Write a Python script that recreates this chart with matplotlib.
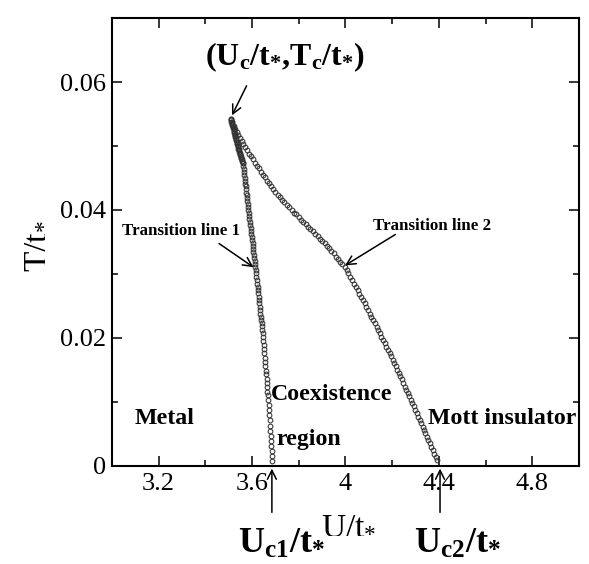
import matplotlib
matplotlib.use("Agg")
import matplotlib.pyplot as plt
from matplotlib.ticker import MultipleLocator

plt.rcParams['font.family'] = ['Liberation Serif', 'DejaVu Serif']
plt.rcParams['mathtext.fontset'] = 'custom'
plt.rcParams['mathtext.rm'] = 'Liberation Serif'
plt.rcParams['mathtext.it'] = 'Liberation Serif:italic'
plt.rcParams['mathtext.bf'] = 'Liberation Serif:bold'

# transition line 1 (metal side)
u_line1 = [3.509, 3.510, 3.512, 3.513, 3.514, 3.516, 3.517, 3.518, 3.519, 3.521,
           3.522, 3.523, 3.524, 3.526, 3.527, 3.528, 3.529, 3.531, 3.532, 3.533,
           3.534, 3.536, 3.537, 3.538, 3.540, 3.541, 3.542, 3.544, 3.545, 3.546,
           3.547, 3.549, 3.550, 3.552, 3.553, 3.554, 3.556, 3.557, 3.559, 3.560,
           3.561, 3.562, 3.564, 3.565, 3.567, 3.568, 3.570, 3.571, 3.573, 3.574,
           3.575, 3.577, 3.578, 3.580, 3.581, 3.583,
           3.584, 3.586, 3.587, 3.589, 3.590, 3.592, 3.594, 3.595, 3.597, 3.598,
           3.600, 3.602, 3.603, 3.605, 3.606, 3.608, 3.610, 3.611, 3.613, 3.614,
           3.616, 3.618, 3.619, 3.621, 3.622, 3.624, 3.625, 3.627, 3.628, 3.630,
           3.631, 3.633, 3.635, 3.636, 3.638, 3.639, 3.641, 3.642, 3.644, 3.645,
           3.647, 3.648, 3.650, 3.651, 3.653, 3.654, 3.656, 3.657, 3.659, 3.660,
           3.662, 3.663, 3.665, 3.666, 3.668,
           3.669, 3.671, 3.672, 3.674, 3.675, 3.677, 3.678, 3.680, 3.681, 3.683,
           3.684, 3.686, 3.687]
t_line1 = [0.0542, 0.0540, 0.0538, 0.0537, 0.0535, 0.0533, 0.0531, 0.0530, 0.0528, 0.0526,
           0.0524, 0.0523, 0.0521, 0.0519, 0.0517, 0.0516, 0.0514, 0.0512, 0.0510, 0.0509,
           0.0507, 0.0505, 0.0503, 0.0502, 0.0500, 0.0498, 0.0496, 0.0495, 0.0493, 0.0491,
           0.0489, 0.0488, 0.0486, 0.0484, 0.0482, 0.0481, 0.0479, 0.0477, 0.0476, 0.0474,
           0.0473, 0.0468, 0.0464, 0.0459, 0.0455, 0.0450, 0.0446, 0.0441, 0.0437, 0.0432,
           0.0427, 0.0423, 0.0418, 0.0414, 0.0409, 0.0405,
           0.0400, 0.0395, 0.0391, 0.0386, 0.0381, 0.0377, 0.0372, 0.0367, 0.0362, 0.0358,
           0.0353, 0.0348, 0.0344, 0.0339, 0.0334, 0.0330, 0.0325, 0.0320, 0.0315, 0.0311,
           0.0306, 0.0301, 0.0296, 0.0290, 0.0285, 0.0280, 0.0275, 0.0270, 0.0264, 0.0259,
           0.0254, 0.0249, 0.0244, 0.0238, 0.0233, 0.0228, 0.0223, 0.0218, 0.0212, 0.0207,
           0.0202, 0.0195, 0.0189, 0.0182, 0.0176, 0.0169, 0.0162, 0.0156, 0.0149, 0.0143,
           0.0136, 0.0129, 0.0123, 0.0116, 0.0110,
           0.0103, 0.0095, 0.0087, 0.0079, 0.0071, 0.0063, 0.0055, 0.0047, 0.0039, 0.0031,
           0.0023, 0.0015, 0.0007]

# transition line 2 (insulator side)
u_line2 = [3.509, 3.516, 3.522, 3.529, 3.536, 3.542, 3.549, 3.556, 3.562,
           3.569, 3.578, 3.587, 3.596, 3.604, 3.613, 3.622, 3.631,
           3.640, 3.649, 3.657, 3.666, 3.674, 3.683, 3.691,
           3.700, 3.710, 3.720, 3.730, 3.739, 3.749, 3.759,
           3.769, 3.779, 3.789, 3.799, 3.810, 3.820, 3.830,
           3.840, 3.850, 3.860, 3.870, 3.881, 3.891, 3.901,
           3.911, 3.921, 3.930, 3.940, 3.949, 3.959, 3.968, 3.978, 3.987,
           3.997, 4.005, 4.013, 4.020, 4.028, 4.036, 4.044, 4.052, 4.059, 4.067,
           4.075, 4.082, 4.089, 4.097, 4.104, 4.111, 4.118, 4.125, 4.133, 4.140,
           4.147, 4.154, 4.161, 4.168, 4.175, 4.182, 4.189, 4.196,
           4.203, 4.209, 4.216, 4.222, 4.229, 4.235, 4.242, 4.248, 4.255,
           4.261, 4.267, 4.274, 4.280, 4.286, 4.293, 4.299, 4.305, 4.312,
           4.318, 4.324, 4.330, 4.336, 4.342, 4.348, 4.354,
           4.360, 4.366, 4.373, 4.379, 4.386, 4.392]
t_line2 = [0.0542, 0.0537, 0.0532, 0.0527, 0.0522, 0.0517, 0.0513, 0.0508, 0.0503,
           0.0498, 0.0493, 0.0488, 0.0484, 0.0479, 0.0474, 0.0469, 0.0465,
           0.0460, 0.0455, 0.0451, 0.0446, 0.0442, 0.0437, 0.0433,
           0.0428, 0.0424, 0.0420, 0.0416, 0.0412, 0.0408, 0.0404,
           0.0400, 0.0396, 0.0393, 0.0389, 0.0385, 0.0381, 0.0378,
           0.0374, 0.0370, 0.0367, 0.0363, 0.0359, 0.0355, 0.0352,
           0.0348, 0.0344, 0.0340, 0.0336, 0.0332, 0.0327, 0.0323, 0.0319, 0.0315,
           0.0311, 0.0306, 0.0301, 0.0295, 0.0290, 0.0285, 0.0280, 0.0275, 0.0269, 0.0264,
           0.0259, 0.0254, 0.0249, 0.0243, 0.0238, 0.0233, 0.0228, 0.0223, 0.0217, 0.0212,
           0.0207, 0.0202, 0.0197, 0.0192, 0.0186, 0.0181, 0.0176, 0.0171,
           0.0166, 0.0161, 0.0156, 0.0150, 0.0145, 0.0140, 0.0135, 0.0129, 0.0124,
           0.0119, 0.0114, 0.0109, 0.0103, 0.0098, 0.0093, 0.0088, 0.0082, 0.0077,
           0.0072, 0.0067, 0.0061, 0.0056, 0.0051, 0.0045, 0.0040,
           0.0035, 0.0030, 0.0025, 0.0019, 0.0014, 0.0009]

x_ticks = [3.2, 3.6, 4.0, 4.4, 4.8]
x_ticklabels = ['3.2', '3.6', '4', '4.4', '4.8']
y_ticks = [0, 0.02, 0.04, 0.06]
y_ticklabels = ['0', '0.02', '0.04', '0.06']

U_c, T_c = 3.509, 0.0542
U_c1, U_c2 = 3.685, 4.405

fig = plt.figure(figsize=(5.89, 5.64), dpi=100)
ax = fig.add_axes([0.190, 0.174, 0.793, 0.794])

mk = dict(ls='none', marker='o', ms=3.4, mfc='none', mec='#333333', mew=0.75)
ax.plot(u_line1, t_line1, **mk)
ax.plot(u_line2, t_line2, **mk)

ax.set_xlim(3.0, 5.0)
ax.set_ylim(0, 0.07)
ax.set_xticks(x_ticks)
ax.set_xticklabels(x_ticklabels)
ax.set_yticks(y_ticks)
ax.set_yticklabels(y_ticklabels)
ax.xaxis.set_minor_locator(MultipleLocator(0.2))
ax.yaxis.set_minor_locator(MultipleLocator(0.01))
ax.tick_params(which='both', direction='in', top=True, right=True, width=1.1, labelsize=19)
ax.tick_params(axis='x', which='major', length=7.5, pad=5)
ax.tick_params(axis='y', which='major', length=7.5, pad=4)
ax.tick_params(which='minor', length=4)
for s in ax.spines.values():
    s.set_linewidth(1.5)

# axis titles
ax.text(-0.165, 0.491, r'$\mathrm{T/t}_{*}$', transform=ax.transAxes, rotation=90,
        ha='center', va='center', fontsize=24)
ax.text(0.507, -0.1496, r'$\mathrm{U/t}_{*}$', transform=ax.transAxes,
        ha='center', va='baseline', fontsize=24)

arr = dict(arrowstyle='->', lw=1.1, color='k', mutation_scale=16)

# critical point label
ax.text(3.398, 0.0627, r'$\mathbf{(U_c/t_{*}{,}T_c/t_{*})}$', fontsize=23, va='baseline')
ax.annotate('', xy=(U_c, T_c + 0.0002), xytext=(3.582, 0.0598), arrowprops=arr)

ax.text(3.043, 0.0361, 'Transition line 1', fontsize=12.2, fontweight='bold', va='baseline')
ax.annotate('', xy=(3.616, 0.0308), xytext=(3.449, 0.0350), arrowprops=arr)
ax.text(4.117, 0.0369, 'Transition line 2', fontsize=12.2, fontweight='bold', va='baseline')
ax.annotate('', xy=(3.988, 0.0311), xytext=(4.224, 0.0364), arrowprops=arr)

ax.text(3.098, 0.00656, 'Metal', fontsize=17.2, fontweight='bold', va='baseline')
ax.text(3.680, 0.01031, 'Coexistence', fontsize=17.2, fontweight='bold', va='baseline')
ax.text(3.706, 0.00328, 'region', fontsize=17.2, fontweight='bold', va='baseline')
ax.text(4.352, 0.00656, 'Mott insulator', fontsize=17.2, fontweight='bold', va='baseline')

# critical U markers below the axis
ax.annotate('', xy=(U_c1, 0), xytext=(U_c1, -0.0077), arrowprops=arr, annotation_clip=False)
ax.annotate('', xy=(U_c2, 0), xytext=(U_c2, -0.0077), arrowprops=arr, annotation_clip=False)
ax.text(3.539, -0.0136, r'$\mathbf{U_{c1}/t_{*}}$', fontsize=26, va='baseline', clip_on=False)
ax.text(4.292, -0.0136, r'$\mathbf{U_{c2}/t_{*}}$', fontsize=26, va='baseline', clip_on=False)

fig.savefig('out.png', dpi=100)
